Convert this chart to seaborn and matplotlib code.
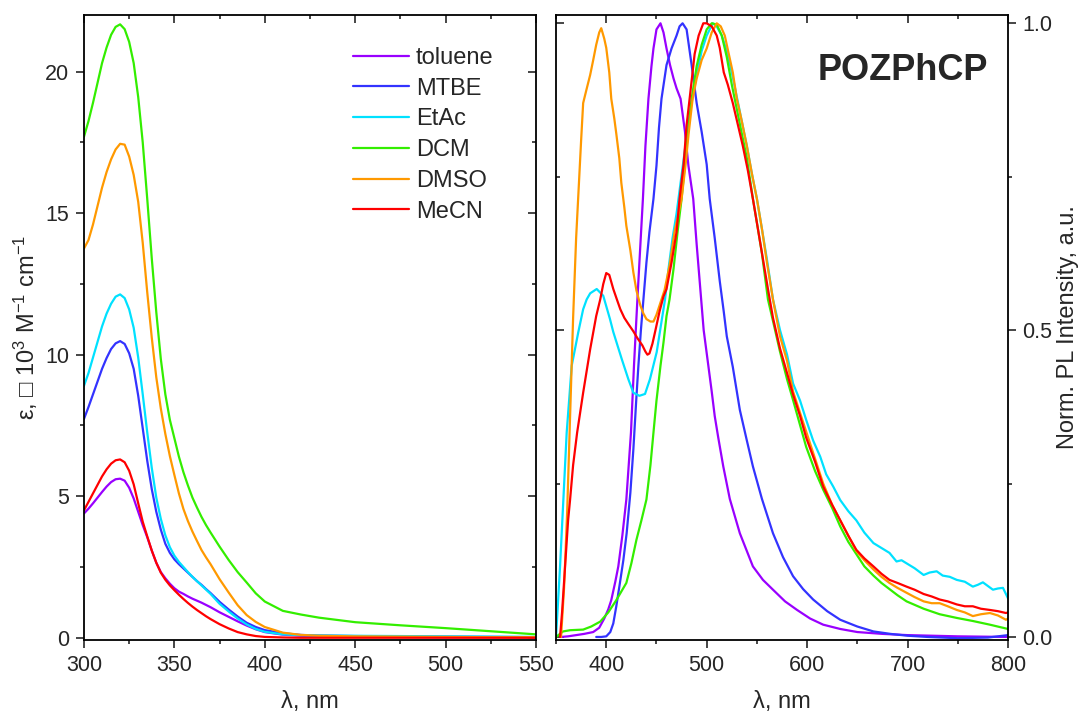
import matplotlib
matplotlib.use("Agg")
import matplotlib.pyplot as plt
import numpy as np
import pandas as pd
import seaborn as sns
from matplotlib.ticker import MultipleLocator, NullFormatter, FormatStrFormatter

# ---------------- data ----------------
solvents = ["toluene", "MTBE", "EtAc", "DCM", "DMSO", "MeCN"]
colors = ["#9900ff", "#3333ff", "#00e1ff", "#33ee00", "#ff9900", "#ff0000"]

# Absorption (left panel), epsilon in 10^3 M^-1 cm^-1
abs_wl = [300, 302.5, 305, 307.5, 310, 312.5, 315, 317.5, 320, 322.5, 325, 327.5, 330, 332.5,
          335, 337.5, 340, 342.5, 345, 347.5, 350, 352.5, 355, 357.5, 360, 362.5, 365, 367.5,
          370, 375, 380, 385, 390, 395, 400, 410, 420, 430, 450, 475, 500, 525, 550]
abs_toluene = [4.39, 4.56, 4.75, 4.95, 5.15, 5.34, 5.5, 5.6, 5.62, 5.55, 5.3, 4.92, 4.45, 3.98,
               3.55, 3.08, 2.65, 2.32, 2.1, 1.91, 1.75, 1.63, 1.55, 1.46, 1.38, 1.31, 1.24, 1.16,
               1.08, 0.9, 0.74, 0.58, 0.43, 0.3, 0.2, 0.11, 0.07, 0.05, 0.04, 0.03, 0.02, 0.02, 0.01]
abs_mtbe = [7.73, 8.15, 8.6, 9.05, 9.5, 9.88, 10.2, 10.4, 10.48, 10.38, 10.05, 9.5, 8.55, 7.4,
            6.25, 5.25, 4.45, 3.82, 3.32, 3.0, 2.77, 2.6, 2.45, 2.3, 2.15, 2.0, 1.87, 1.72,
            1.58, 1.27, 1.0, 0.75, 0.53, 0.38, 0.27, 0.16, 0.1, 0.08, 0.06, 0.05, 0.04, 0.03, 0.02]
abs_etac = [8.9, 9.35, 9.9, 10.45, 11.0, 11.45, 11.8, 12.05, 12.13, 12.0, 11.6, 10.95, 9.9, 8.6,
            7.25, 6.0, 4.95, 4.2, 3.62, 3.2, 2.9, 2.68, 2.5, 2.32, 2.15, 2.0, 1.85, 1.7,
            1.55, 1.2, 0.93, 0.68, 0.47, 0.31, 0.21, 0.12, 0.09, 0.08, 0.07, 0.06, 0.05, 0.04, 0.03]
abs_dcm = [17.7, 18.25, 18.9, 19.6, 20.3, 20.85, 21.3, 21.58, 21.67, 21.5, 21.05, 20.3, 19.1, 17.5,
           15.5, 13.4, 11.5, 9.85, 8.6, 7.7, 7.05, 6.4, 5.85, 5.38, 4.95, 4.6, 4.27, 3.98,
           3.72, 3.22, 2.75, 2.32, 1.95, 1.57, 1.28, 0.95, 0.82, 0.71, 0.55, 0.44, 0.34, 0.23, 0.12]
abs_dmso = [13.75, 14.05, 14.6, 15.25, 15.9, 16.45, 16.9, 17.25, 17.45, 17.42, 17.0, 16.35, 15.4,
            13.95, 12.2, 10.6, 9.2, 8.1, 7.2, 6.42, 5.75, 5.1, 4.55, 4.12, 3.75, 3.42, 3.1, 2.84,
            2.6, 2.07, 1.6, 1.15, 0.8, 0.56, 0.38, 0.18, 0.1, 0.07, 0.05, 0.04, 0.03, 0.02, 0.02]
abs_mecn = [4.5, 4.8, 5.1, 5.4, 5.7, 5.95, 6.15, 6.27, 6.3, 6.2, 5.9, 5.42, 4.75, 4.1,
            3.58, 3.08, 2.65, 2.3, 2.05, 1.85, 1.68, 1.52, 1.37, 1.23, 1.1, 0.98, 0.87, 0.76,
            0.66, 0.48, 0.33, 0.2, 0.12, 0.06, 0.03, 0.01, 0.0, 0.0, 0.0, 0.0, 0.0, 0.0, 0.0]

# Normalised photoluminescence (right panel)
pl_toluene_wl = [355, 362, 370, 378, 387, 393, 398, 402, 405, 409, 412, 416, 420, 424.6, 427.6, 431,
                 434, 436.5, 439, 442, 445, 447, 450, 454, 457, 460, 463.5, 467, 470, 474, 478.4,
                 481.8, 486.6, 490, 494, 497, 501, 505, 508, 511.5, 516.5, 523, 533, 546, 556, 566,
                 578, 590, 603, 616, 633, 650, 675, 700, 750, 800]
pl_toluene = [0.0, 0.001, 0.003, 0.005, 0.008, 0.015, 0.03, 0.045, 0.06, 0.09, 0.115, 0.165, 0.224,
              0.333, 0.442, 0.55, 0.64, 0.714, 0.8, 0.877, 0.93, 0.959, 0.99, 1.0, 0.985, 0.959,
              0.932, 0.91, 0.894, 0.877, 0.823, 0.768, 0.714, 0.64, 0.56, 0.5, 0.45, 0.4, 0.36,
              0.325, 0.278, 0.225, 0.169, 0.115, 0.093, 0.077, 0.058, 0.044, 0.03, 0.02, 0.013,
              0.008, 0.005, 0.003, 0.001, 0.0]

pl_mtbe_wl = [390, 395, 400, 404, 407, 410, 413.6, 417, 420.3, 424, 427, 430, 432, 434.5, 437, 440,
              443, 447, 450, 452.5, 455, 460, 465, 470, 473, 476, 480, 485, 490, 495, 500, 503, 508,
              513, 517, 520, 526, 533, 540, 546, 555, 566, 576, 586, 596, 606, 620, 633, 650, 666,
              683, 700, 720, 750, 780, 800]
pl_mtbe = [0.0, 0.0, 0.001, 0.008, 0.022, 0.05, 0.088, 0.125, 0.169, 0.235, 0.306, 0.39, 0.442, 0.5,
           0.55, 0.61, 0.66, 0.714, 0.768, 0.83, 0.877, 0.932, 0.959, 0.98, 0.995, 1.0, 0.99, 0.932,
           0.87, 0.823, 0.77, 0.714, 0.65, 0.58, 0.53, 0.49, 0.44, 0.37, 0.32, 0.278, 0.225, 0.169,
           0.13, 0.099, 0.078, 0.061, 0.042, 0.028, 0.017, 0.009, 0.005, 0.002, 0.0, -0.002, -0.001,
           0.003]

pl_etac_wl = [350, 354, 357.3, 360.6, 365.6, 372.2, 377, 380.5, 384, 390.5, 397, 403.7, 407, 415.4,
              422, 427, 433, 438.6, 443.5, 450.2, 458.5, 462, 466, 470, 474, 478, 482, 486, 490, 495,
              500, 506, 510, 515, 520, 525, 530, 535, 540, 545, 550, 555, 560, 566, 573, 580, 586,
              593, 599, 606, 613, 619, 626, 633, 641, 649, 657, 666, 674, 682, 689, 694, 699, 707,
              716, 722, 729, 735, 742, 749, 757, 765, 770, 775, 780, 785, 790, 795, 800]
pl_etac = [0.0, 0.115, 0.224, 0.333, 0.442, 0.497, 0.534, 0.55, 0.56, 0.567, 0.556, 0.518, 0.497,
           0.453, 0.42, 0.398, 0.393, 0.396, 0.42, 0.464, 0.55, 0.6, 0.65, 0.69, 0.74, 0.79, 0.84,
           0.88, 0.915, 0.955, 0.98, 1.0, 0.995, 0.98, 0.955, 0.92, 0.88, 0.84, 0.8, 0.755, 0.714,
           0.665, 0.615, 0.55, 0.5, 0.46, 0.413, 0.385, 0.354, 0.32, 0.294, 0.265, 0.245, 0.223,
           0.205, 0.19, 0.17, 0.153, 0.145, 0.137, 0.123, 0.125, 0.12, 0.112, 0.101, 0.105, 0.107,
           0.1, 0.098, 0.093, 0.09, 0.082, 0.085, 0.089, 0.083, 0.077, 0.079, 0.08, 0.063]

pl_dcm_wl = [350, 357, 364, 377, 385, 394, 402, 410, 420, 425, 430, 435, 440, 444, 447, 450, 454,
             457, 460, 463, 467, 471, 475, 480, 485, 490, 495, 500, 505, 510, 515, 520, 525, 530,
             535, 540, 546, 550, 555, 561, 566, 573, 580, 586, 593, 599, 608, 616, 625, 633, 641,
             649, 657, 666, 674, 682, 690, 699, 716, 732, 749, 765, 782, 800]
pl_dcm = [0.0, 0.009, 0.011, 0.012, 0.017, 0.025, 0.04, 0.06, 0.088, 0.12, 0.158, 0.19, 0.224, 0.28,
          0.333, 0.385, 0.442, 0.48, 0.523, 0.55, 0.6, 0.66, 0.714, 0.8, 0.877, 0.93, 0.965, 0.99,
          1.0, 0.998, 0.98, 0.945, 0.9, 0.86, 0.82, 0.78, 0.714, 0.675, 0.625, 0.55, 0.515, 0.465,
          0.42, 0.386, 0.345, 0.31, 0.27, 0.24, 0.21, 0.18, 0.155, 0.135, 0.115, 0.1, 0.088, 0.078,
          0.068, 0.058, 0.046, 0.037, 0.031, 0.026, 0.02, 0.013]

pl_dmso_wl = [355, 358, 361, 364, 367, 370, 372, 375, 377, 380, 384, 387, 390, 393, 395, 398, 400,
              403, 405, 408, 410, 413, 415, 418, 420, 424, 427, 430, 434, 437, 440, 444, 447, 450,
              453, 458, 463, 468, 472, 475, 479, 482, 486, 490, 495, 500, 505, 510, 514, 518, 522,
              526, 530, 535, 540, 545, 550, 555, 560, 566, 573, 580, 586, 593, 599, 608, 616, 625,
              633, 641, 649, 657, 666, 674, 682, 690, 699, 707, 716, 724, 732, 740, 749, 757, 765,
              773, 782, 790, 798, 800]
pl_dmso = [0.0, 0.08, 0.2, 0.36, 0.52, 0.65, 0.714, 0.81, 0.87, 0.89, 0.916, 0.94, 0.965, 0.985,
           0.992, 0.975, 0.96, 0.92, 0.877, 0.845, 0.82, 0.78, 0.74, 0.7, 0.67, 0.63, 0.594, 0.565,
           0.54, 0.527, 0.518, 0.514, 0.514, 0.525, 0.54, 0.565, 0.605, 0.66, 0.69, 0.714, 0.77,
           0.82, 0.877, 0.91, 0.94, 0.959, 0.985, 1.0, 0.995, 0.98, 0.95, 0.92, 0.877, 0.84, 0.8,
           0.755, 0.714, 0.665, 0.61, 0.55, 0.49, 0.45, 0.4, 0.365, 0.335, 0.29, 0.25, 0.215, 0.19,
           0.165, 0.14, 0.125, 0.11, 0.098, 0.088, 0.08, 0.072, 0.065, 0.058, 0.055, 0.055, 0.05,
           0.044, 0.04, 0.034, 0.037, 0.039, 0.035, 0.028, 0.03]

pl_mecn_wl = [354, 356, 359, 362, 364, 367, 371, 377, 384, 390, 394, 397, 400, 403, 407, 411, 414,
              418, 422, 427, 431, 436, 439, 441, 443, 446, 449, 453, 457, 460, 465, 470, 473, 477,
              480, 483, 488, 492, 496.6, 500, 505, 510, 513, 517, 521, 526, 531, 536, 541, 546, 551,
              556, 561, 566, 573, 580, 586, 593, 599, 608, 616, 625, 633, 641, 649, 657, 666, 674,
              682, 690, 699, 707, 716, 724, 732, 740, 749, 757, 765, 773, 782, 790, 798, 800]
pl_mecn = [0.0, 0.04, 0.115, 0.19, 0.224, 0.28, 0.333, 0.398, 0.469, 0.523, 0.55, 0.575, 0.593,
           0.59, 0.567, 0.548, 0.534, 0.52, 0.51, 0.498, 0.487, 0.475, 0.465, 0.46, 0.462, 0.478,
           0.5, 0.53, 0.555, 0.567, 0.61, 0.66, 0.714, 0.77, 0.834, 0.877, 0.95, 0.98, 1.0, 1.0,
           0.995, 0.98, 0.96, 0.92, 0.9, 0.87, 0.835, 0.8, 0.76, 0.714, 0.665, 0.616, 0.567, 0.52,
           0.47, 0.43, 0.395, 0.36, 0.325, 0.285, 0.245, 0.215, 0.19, 0.165, 0.142, 0.128, 0.115,
           0.103, 0.093, 0.088, 0.082, 0.077, 0.07, 0.066, 0.061, 0.058, 0.053, 0.05, 0.05, 0.046,
           0.044, 0.042, 0.039, 0.04]

abs_series = [abs_toluene, abs_mtbe, abs_etac, abs_dcm, abs_dmso, abs_mecn]
pl_series = [(pl_toluene_wl, pl_toluene), (pl_mtbe_wl, pl_mtbe), (pl_etac_wl, pl_etac),
             (pl_dcm_wl, pl_dcm), (pl_dmso_wl, pl_dmso), (pl_mecn_wl, pl_mecn)]

df_abs = pd.concat([pd.DataFrame({"wl": abs_wl, "val": v, "solvent": s})
                    for s, v in zip(solvents, abs_series)], ignore_index=True)
df_pl = pd.concat([pd.DataFrame({"wl": w, "val": v, "solvent": s})
                   for s, (w, v) in zip(solvents, pl_series)], ignore_index=True)
palette = dict(zip(solvents, colors))

# ---------------- style ----------------
sns.set_style("ticks")
plt.rcParams["font.family"] = ["Liberation Sans", "DejaVu Sans"]
plt.rcParams["mathtext.fontset"] = "custom"
plt.rcParams["mathtext.rm"] = "Liberation Sans"
plt.rcParams["mathtext.it"] = "Liberation Sans:italic"
plt.rcParams["mathtext.fallback"] = "stixsans"
plt.rcParams["axes.linewidth"] = 1.3
plt.rcParams["lines.solid_joinstyle"] = "round"

TICK = 15.5
LAB = 17

fig = plt.figure(figsize=(10.82, 7.18), dpi=100)
ax1 = fig.add_axes([0.0776, 0.1086, 0.4178, 0.8705])
ax2 = fig.add_axes([0.5139, 0.1086, 0.4177, 0.8705])

sns.lineplot(data=df_abs, x="wl", y="val", hue="solvent", hue_order=solvents, palette=palette,
             ax=ax1, estimator=None, linewidth=1.6)
sns.lineplot(data=df_pl, x="wl", y="val", hue="solvent", hue_order=solvents, palette=palette,
             ax=ax2, estimator=None, linewidth=1.6, legend=False)

for ax in (ax1, ax2):
    for sp in ax.spines.values():
        sp.set_visible(True)
        sp.set_linewidth(1.3)
        sp.set_color("black")

# Left panel
ax1.set_xlim(300, 550)
ax1.set_ylim(-0.08, 22.0)
ax1.xaxis.set_major_locator(MultipleLocator(50))
ax1.xaxis.set_minor_locator(MultipleLocator(25))
ax1.yaxis.set_major_locator(MultipleLocator(5))
ax1.yaxis.set_minor_locator(MultipleLocator(2.5))
ax1.tick_params(axis="both", which="major", direction="out", length=5.5, width=1.2,
                labelsize=TICK, pad=5, top=False, right=False)
ax1.tick_params(axis="both", which="minor", direction="out", length=3, width=1.2,
                top=False, right=False)
ax1.set_xlabel("λ, nm", fontsize=LAB, labelpad=11)
ax1.set_ylabel("ε, \u25a1 10$^3$ M$^{-1}$ cm$^{-1}$", fontsize=LAB, labelpad=4)

sx1 = ax1.secondary_xaxis("top")
sx1.xaxis.set_major_locator(MultipleLocator(50))
sx1.xaxis.set_minor_locator(MultipleLocator(25))
sx1.tick_params(which="major", direction="in", length=5.5, width=1.2, labeltop=False)
sx1.tick_params(which="minor", direction="in", length=3, width=1.2)
sx1.spines["top"].set_visible(False)
sy1 = ax1.secondary_yaxis("right")
sy1.yaxis.set_major_locator(MultipleLocator(5))
sy1.yaxis.set_minor_locator(MultipleLocator(2.5))
sy1.tick_params(which="major", direction="in", length=5.5, width=1.2, labelright=False)
sy1.tick_params(which="minor", direction="in", length=3, width=1.2)
sy1.spines["right"].set_visible(False)

h, l = ax1.get_legend_handles_labels()
ax1.legend(h, l, frameon=False, fontsize=LAB, loc="upper left",
           bbox_to_anchor=(0.595, 0.949), borderaxespad=0, borderpad=0,
           handlelength=2.37, handletextpad=0.3, labelspacing=0.37)

# Right panel
ax2.set_xlim(350, 800)
ax2.set_ylim(-0.005, 1.0135)
ax2.xaxis.set_major_locator(MultipleLocator(100))
ax2.xaxis.set_minor_locator(MultipleLocator(50))
ax2.yaxis.set_major_locator(MultipleLocator(0.5))
ax2.yaxis.set_minor_locator(MultipleLocator(0.25))
ax2.yaxis.set_major_formatter(FormatStrFormatter("%.1f"))
ax2.yaxis.tick_right()
ax2.yaxis.set_label_position("right")
ax2.tick_params(axis="both", which="major", direction="out", length=5.5, width=1.2,
                labelsize=TICK, pad=5, top=False, left=False)
ax2.tick_params(axis="both", which="minor", direction="out", length=3, width=1.2,
                top=False, left=False)
ax2.set_xlabel("λ, nm", fontsize=LAB, labelpad=11)
ax2.set_ylabel("Norm. PL Intensity, a.u.", fontsize=LAB, labelpad=3)

sx2 = ax2.secondary_xaxis("top")
sx2.xaxis.set_major_locator(MultipleLocator(100))
sx2.xaxis.set_minor_locator(MultipleLocator(50))
sx2.tick_params(which="major", direction="in", length=5.5, width=1.2, labeltop=False)
sx2.tick_params(which="minor", direction="in", length=3, width=1.2)
sx2.spines["top"].set_visible(False)
sy2 = ax2.secondary_yaxis("left")
sy2.yaxis.set_major_locator(MultipleLocator(0.5))
sy2.yaxis.set_minor_locator(MultipleLocator(0.25))
sy2.yaxis.set_major_formatter(NullFormatter())
sy2.tick_params(which="major", direction="in", length=5.5, width=1.2, labelleft=False)
sy2.tick_params(which="minor", direction="in", length=3, width=1.2)
sy2.spines["left"].set_visible(False)

ax2.text(0.768, 0.912, "POZPhCP", transform=ax2.transAxes, fontsize=26, fontweight="bold",
         ha="center", va="center")

fig.savefig("out.png", dpi=100)
